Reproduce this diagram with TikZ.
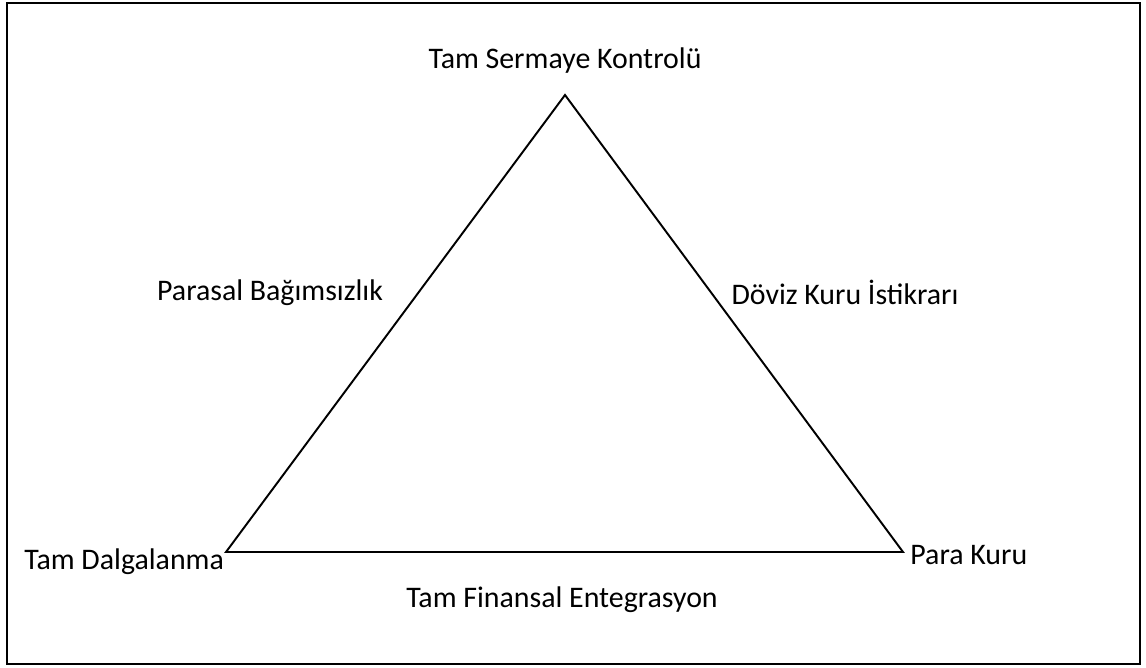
\documentclass[tikz,border=0pt]{standalone}
\usepackage{fontspec}
\setmainfont{Carlito}
\usetikzlibrary{positioning}

\begin{document}
\begin{tikzpicture}[
  x=0.02cm, y=-0.02cm,
  font=\fontsize{17}{20}\selectfont,
  frame/.style={draw=black, line width=1.5pt},
  side/.style={draw=black, line width=1.1pt, line join=miter},
  corner/.style={inner sep=1pt},
]

\useasboundingbox (0,0) rectangle (1146,668);
\draw[frame] (7,3) rectangle (1140,664);

% corners of the triangle
\coordinate (top) at (565,95);
\coordinate (left) at (226,552);
\coordinate (right) at (903,552);

\draw[side] (top) -- (right) -- (left) -- cycle;

\node[corner, above=0.4cm of top] (control) {Tam Sermaye Kontrolü};
\node[corner, anchor=north east, yshift=3pt] (float) at (left) {Tam Dalgalanma};
\node[corner, anchor=west, xshift=3pt, yshift=-2pt] (board) at (right) {Para Kuru};

\node (policy) at (270,293) {Parasal Bağımsızlık};
\node (stable) at (845,292) {Döviz Kuru İstikrarı};
\node (finance) at (562,600) {Tam Finansal Entegrasyon};

\end{tikzpicture}
\end{document}
